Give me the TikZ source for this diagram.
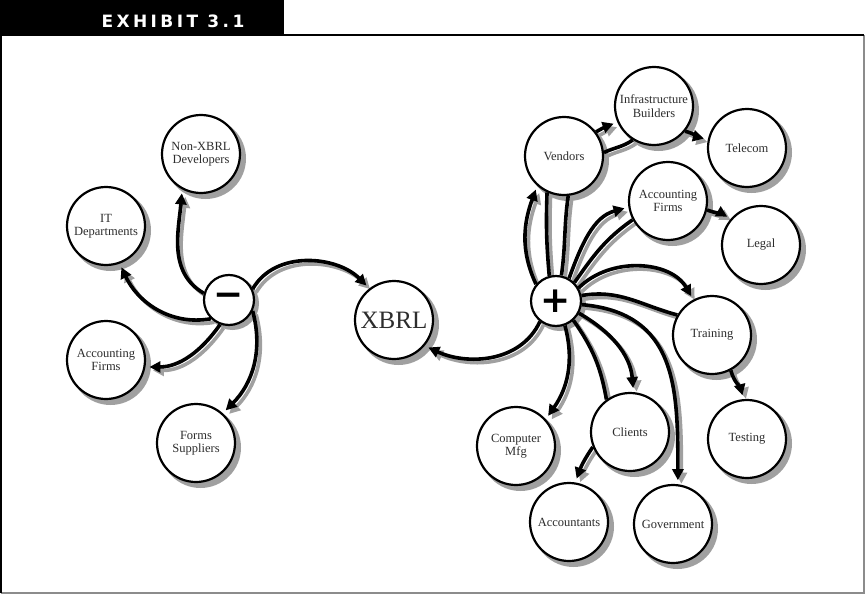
\documentclass[tikz,border=0pt]{standalone}
\usepackage{fontspec}
\setmainfont{Liberation Serif}
\newfontfamily\hdrfont[LetterSpace=20]{DejaVu Sans}
\newfontfamily\symfont{DejaVu Sans}
\usetikzlibrary{arrows.meta,calc}
\pgfdeclarelayer{eshadow}
\pgfdeclarelayer{cshadow}
\pgfdeclarelayer{edges}
\pgfsetlayers{eshadow,cshadow,edges,main}
\definecolor{shgray}{RGB}{160,160,160}
\definecolor{txt}{RGB}{45,45,45}
\definecolor{framegray}{RGB}{140,140,140}
\tikzset{
  bub/.style={circle, draw=black, line width=2.2pt, fill=white, minimum size=78pt,
    inner sep=0pt, align=center, font=\fontsize{12.5}{13.5}\selectfont, text=txt},
  hub/.style={bub, minimum size=50pt, text=black, font=\symfont\bfseries\fontsize{36}{36}\selectfont},
  eline/.style={line width=3.6pt, draw=black},
  eshad/.style={line width=3.6pt, draw=shgray},
  tip/.style={-{Triangle[length=11pt,width=11pt]}, shorten >=4pt},
}
\newcommand\ecurve[4][]{%
  \begin{pgfonlayer}{eshadow}\draw[eshad,#1] ($(#2)+(3.5,-3.5)$) to[#3] ($(#4)+(3.5,-3.5)$);\end{pgfonlayer}%
  \begin{pgfonlayer}{edges}\draw[eline,#1] (#2) to[#3] (#4);\end{pgfonlayer}}
\begin{document}
\begin{tikzpicture}[x=1pt,y=1pt]
\useasboundingbox (0,0) rectangle (865,-594);
% header and frame
\fill[black] (0,0) rectangle (284,-35);
\node[text=white, font=\hdrfont\bfseries\fontsize{17}{17}\selectfont] (hdr) at (173,-21) {EXHIBIT 3.1};
\draw[framegray, line width=1.2pt] (864,-35) -- (864,-593) -- (1,-593);
\draw[black, line width=1.2pt] (1,-593) -- (1,-35);
\draw[black, line width=1.6pt] (0,-35) -- (864,-35);
% nodes
\node[hub] (M) at (229,-300) {−};
\node[bub, font=\fontsize{25}{25}\selectfont] (X) at (394,-320) {XBRL};
\node[bub] (N) at (201,-154) {Non-XBRL\\Developers};
\node[bub] (IT) at (106,-226) {IT\\Departments};
\node[bub] (AL) at (106,-360) {Accounting\\Firms};
\node[bub] (F) at (196,-443) {Forms\\Suppliers};
\node[hub] (P) at (556,-301) {+};
\node[bub] (V) at (564,-156) {Vendors};
\node[bub] (IB) at (654,-106) {Infrastructure\\Builders};
\node[bub] (TC) at (747,-148) {Telecom};
\node[bub] (AR) at (668,-201) {Accounting\\Firms};
\node[bub] (LG) at (761,-245) {Legal};
\node[bub] (TR) at (712,-335) {Training};
\node[bub] (TS) at (747,-439) {Testing};
\node[bub] (C) at (630,-432) {Clients};
\node[bub] (CM) at (516,-446) {Computer\\Mfg};
\node[bub] (A) at (569,-522) {Accountants};
\node[bub] (G) at (673,-524) {Government};
% circle shadows
\begin{pgfonlayer}{cshadow}
\foreach \n in {X,N,IT,AL,F,V,IB,TC,AR,LG,TR,TS,C,CM,A,G}
  \fill[shgray] ($(\n.center)+(4.5,-4.5)$) circle (40.5);
\foreach \n in {M,P}
  \fill[shgray] ($(\n.center)+(3.5,-3.5)$) circle (26.5);
\end{pgfonlayer}
% minus hub edges
\ecurve[tip]{M.165}{out=150,in=265}{N.242}
\ecurve[tip]{M.226}{out=190,in=295}{IT.290}
\ecurve[tip]{M.250}{out=235,in=0}{AL.350}
\ecurve[tip]{M.-25}{out=-75,in=45}{F.48}
\ecurve[tip]{M.25}{out=60,in=135}{X.128}
% plus hub edges
\ecurve[tip]{P.232}{out=245,in=-25}{X.-40}
\ecurve[tip]{P.140}{out=115,in=250}{V.228}
\ecurve{P.105}{out=95,in=268}{V.245}
\ecurve{P.78}{out=82,in=262}{V.276}
\ecurve[tip]{P.60}{out=70,in=195}{AR.189}
\ecurve{P.45}{out=55,in=215}{AR.208}
\ecurve[tip]{P.30}{out=45,in=120}{TR.118}
\ecurve{P.12}{out=10,in=165}{TR.150}
\ecurve[tip]{P.-8}{out=-5,in=90,looseness=1.2}{G.83}
\ecurve[tip]{P.-28}{out=-30,in=95}{C.85}
\ecurve{P.-48}{out=-55,in=100}{C.126}
\ecurve[tip]{P.-70}{out=-75,in=55}{CM.42}
% secondary edges
\ecurve[tip]{V.37}{out=30,in=200}{IB.204}
\ecurve{V.5}{out=25,in=215}{IB.238}
\ecurve[tip]{IB.-39}{out=-15,in=165}{TC.168}
\ecurve[tip]{AR.-13}{out=-20,in=150}{LG.139}
\ecurve[tip]{TR.-62}{out=-75,in=105}{TS.95}
\ecurve[tip]{C.202}{out=235,in=70}{A.81}
\end{tikzpicture}
\end{document}
